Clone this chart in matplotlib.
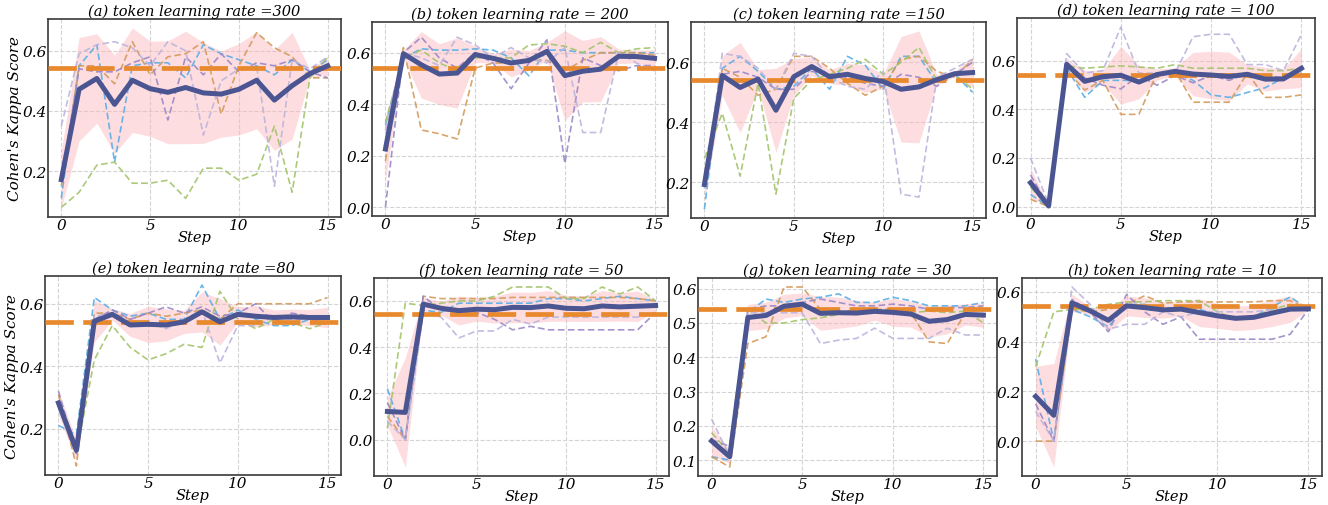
import numpy as np
import matplotlib
matplotlib.use("Agg")
import matplotlib.pyplot as plt
from matplotlib.ticker import MultipleLocator

steps = list(range(16))
baseline = 0.542
titles = ["(a) token learning rate =300", "(b) token learning rate = 200",
          "(c) token learning rate =150", "(d) token learning rate = 100",
          "(e) token learning rate =80", "(f) token learning rate = 50",
          "(g) token learning rate = 30", "(h) token learning rate = 10"]

# run order in each panel: blue, orange, green, purple, lavender
runs_300 = [
    [0.11, 0.55, 0.62, 0.23, 0.55, 0.56, 0.56, 0.51, 0.62, 0.59, 0.57, 0.55, 0.52, 0.57, 0.53, 0.57],
    [0.15, 0.55, 0.55, 0.49, 0.63, 0.52, 0.58, 0.59, 0.63, 0.39, 0.55, 0.66, 0.61, 0.58, 0.51, 0.51],
    [0.08, 0.13, 0.22, 0.23, 0.16, 0.16, 0.17, 0.11, 0.21, 0.21, 0.17, 0.19, 0.35, 0.13, 0.51, 0.58],
    [0.17, 0.54, 0.53, 0.53, 0.56, 0.58, 0.37, 0.58, 0.52, 0.59, 0.53, 0.56, 0.55, 0.57, 0.53, 0.51],
    [0.35, 0.59, 0.62, 0.63, 0.61, 0.55, 0.63, 0.60, 0.32, 0.50, 0.54, 0.55, 0.15, 0.57, 0.54, 0.58],
]
runs_200 = [
    [0.32, 0.58, 0.615, 0.61, 0.61, 0.615, 0.61, 0.58, 0.51, 0.61, 0.61, 0.60, 0.60, 0.60, 0.60, 0.60],
    [0.18, 0.62, 0.30, 0.285, 0.265, 0.54, 0.56, 0.56, 0.57, 0.57, 0.53, 0.57, 0.60, 0.60, 0.60, 0.59],
    [0.33, 0.58, 0.61, 0.56, 0.53, 0.58, 0.58, 0.58, 0.63, 0.635, 0.625, 0.60, 0.64, 0.60, 0.615, 0.62],
    [0.00, 0.60, 0.66, 0.58, 0.54, 0.60, 0.56, 0.46, 0.56, 0.65, 0.17, 0.58, 0.55, 0.53, 0.55, 0.55],
    [0.30, 0.60, 0.58, 0.55, 0.66, 0.63, 0.58, 0.62, 0.58, 0.56, 0.62, 0.29, 0.29, 0.60, 0.56, 0.53],
]
runs_150 = [
    [0.11, 0.58, 0.62, 0.57, 0.51, 0.52, 0.58, 0.51, 0.62, 0.59, 0.51, 0.62, 0.62, 0.53, 0.56, 0.50],
    [0.19, 0.58, 0.55, 0.49, 0.51, 0.62, 0.62, 0.58, 0.53, 0.49, 0.52, 0.61, 0.62, 0.57, 0.55, 0.61],
    [0.28, 0.43, 0.22, 0.53, 0.16, 0.48, 0.54, 0.56, 0.58, 0.61, 0.56, 0.60, 0.65, 0.54, 0.56, 0.51],
    [0.20, 0.56, 0.57, 0.55, 0.51, 0.51, 0.57, 0.56, 0.55, 0.53, 0.52, 0.56, 0.55, 0.52, 0.56, 0.60],
    [0.18, 0.63, 0.62, 0.58, 0.51, 0.63, 0.62, 0.55, 0.52, 0.51, 0.57, 0.16, 0.15, 0.55, 0.58, 0.61],
]
runs_100 = [
    [0.05, 0.00, 0.57, 0.45, 0.52, 0.52, 0.52, 0.55, 0.55, 0.52, 0.46, 0.45, 0.47, 0.49, 0.53, 0.55],
    [0.03, 0.00, 0.56, 0.48, 0.52, 0.38, 0.38, 0.55, 0.56, 0.43, 0.43, 0.43, 0.55, 0.45, 0.45, 0.46],
    [0.08, 0.00, 0.58, 0.57, 0.575, 0.58, 0.575, 0.57, 0.585, 0.57, 0.57, 0.57, 0.57, 0.56, 0.56, 0.57],
    [0.13, 0.00, 0.59, 0.53, 0.50, 0.485, 0.54, 0.50, 0.54, 0.51, 0.54, 0.52, 0.55, 0.54, 0.53, 0.56],
    [0.20, 0.01, 0.63, 0.55, 0.56, 0.74, 0.55, 0.55, 0.55, 0.70, 0.71, 0.71, 0.585, 0.585, 0.56, 0.71],
]
runs_80 = [
    [0.21, 0.18, 0.62, 0.58, 0.56, 0.57, 0.55, 0.55, 0.66, 0.55, 0.58, 0.55, 0.53, 0.53, 0.55, 0.54],
    [0.31, 0.08, 0.57, 0.57, 0.55, 0.57, 0.56, 0.57, 0.58, 0.55, 0.60, 0.60, 0.60, 0.60, 0.60, 0.62],
    [0.28, 0.12, 0.42, 0.53, 0.46, 0.42, 0.44, 0.47, 0.46, 0.64, 0.55, 0.52, 0.55, 0.54, 0.52, 0.54],
    [0.32, 0.12, 0.55, 0.58, 0.55, 0.57, 0.59, 0.57, 0.59, 0.56, 0.57, 0.60, 0.54, 0.57, 0.56, 0.53],
    [0.29, 0.15, 0.56, 0.57, 0.54, 0.54, 0.52, 0.55, 0.58, 0.41, 0.53, 0.53, 0.56, 0.55, 0.55, 0.55],
]
runs_50 = [
    [0.22, 0.00, 0.56, 0.55, 0.59, 0.59, 0.59, 0.59, 0.59, 0.61, 0.61, 0.60, 0.61, 0.62, 0.61, 0.60],
    [0.10, 0.00, 0.62, 0.61, 0.61, 0.61, 0.61, 0.615, 0.615, 0.615, 0.615, 0.615, 0.615, 0.615, 0.61, 0.60],
    [0.05, 0.59, 0.58, 0.59, 0.60, 0.60, 0.62, 0.66, 0.66, 0.66, 0.61, 0.61, 0.66, 0.63, 0.66, 0.60],
    [0.16, 0.00, 0.62, 0.56, 0.55, 0.55, 0.52, 0.475, 0.49, 0.475, 0.475, 0.475, 0.475, 0.475, 0.475, 0.55],
    [0.08, 0.00, 0.55, 0.53, 0.44, 0.47, 0.47, 0.52, 0.50, 0.53, 0.53, 0.53, 0.53, 0.53, 0.53, 0.55],
]
runs_30 = [
    [0.11, 0.10, 0.53, 0.57, 0.56, 0.57, 0.575, 0.585, 0.56, 0.56, 0.575, 0.565, 0.55, 0.55, 0.55, 0.56],
    [0.11, 0.08, 0.44, 0.46, 0.605, 0.605, 0.54, 0.53, 0.54, 0.54, 0.54, 0.53, 0.445, 0.44, 0.53, 0.54],
    [0.18, 0.12, 0.54, 0.50, 0.50, 0.51, 0.515, 0.525, 0.54, 0.535, 0.53, 0.53, 0.535, 0.53, 0.535, 0.50],
    [0.16, 0.14, 0.54, 0.55, 0.55, 0.56, 0.57, 0.56, 0.55, 0.55, 0.555, 0.55, 0.54, 0.545, 0.545, 0.55],
    [0.22, 0.11, 0.53, 0.53, 0.53, 0.53, 0.44, 0.45, 0.455, 0.485, 0.455, 0.455, 0.455, 0.485, 0.465, 0.465],
]
runs_10 = [
    [0.33, 0.00, 0.53, 0.50, 0.46, 0.55, 0.55, 0.53, 0.53, 0.53, 0.51, 0.49, 0.50, 0.54, 0.58, 0.53],
    [0.00, 0.00, 0.53, 0.52, 0.53, 0.55, 0.585, 0.555, 0.56, 0.56, 0.56, 0.56, 0.56, 0.565, 0.565, 0.53],
    [0.30, 0.52, 0.53, 0.53, 0.55, 0.56, 0.56, 0.565, 0.565, 0.565, 0.52, 0.49, 0.50, 0.53, 0.55, 0.54],
    [0.15, 0.00, 0.57, 0.52, 0.44, 0.59, 0.52, 0.47, 0.50, 0.41, 0.41, 0.41, 0.41, 0.41, 0.43, 0.53],
    [0.12, 0.00, 0.62, 0.55, 0.45, 0.47, 0.47, 0.52, 0.50, 0.52, 0.52, 0.52, 0.52, 0.53, 0.53, 0.53],
]
all_runs = [runs_300, runs_200, runs_150, runs_100, runs_80, runs_50, runs_30, runs_10]

run_colors = ["#5aaee6", "#d49a5c", "#a3c36a", "#9a88c6", "#bcb4dc"]
mean_color = "#4a5592"
band_color = "#fbb4b8"
base_color = "#e8892e"

# axes boxes in pixels (left, top, right, bottom)
W, H = 1328, 506
boxes = [(48, 20, 341, 218), (372, 23, 668, 217), (691, 23, 986, 219), (1017, 19, 1315, 217),
         (45, 277, 341, 476), (374, 279, 669, 477), (698, 279, 997, 477), (1022, 279, 1322, 477)]
ystep = [0.2, 0.2, 0.2, 0.2, 0.2, 0.2, 0.1, 0.2]

plt.rcParams["font.family"] = ["DejaVu Serif"]
plt.rcParams["font.style"] = "italic"

fig = plt.figure(figsize=(W / 100, H / 100), dpi=100)
for k, (runs, (l, t, r, b)) in enumerate(zip(all_runs, boxes)):
    ax = fig.add_axes([l / W, 1 - b / H, (r - l) / W, (b - t) / H])
    arr = np.array(runs)
    m = arr.mean(axis=0)
    s = arr.std(axis=0)
    ax.fill_between(steps, m - s, m + s, color=band_color, alpha=0.45, lw=0, zorder=1)
    for run, c in zip(runs, run_colors):
        ax.plot(steps, run, color=c, lw=1.2, ls=(0, (4, 2)), alpha=0.9, zorder=2)
    ax.axhline(baseline, color=base_color, lw=3.4, ls=(0, (6, 2)), zorder=3)
    ax.plot(steps, m, color=mean_color, lw=3.6, zorder=4)
    ax.set_xticks([0, 5, 10, 15])
    ax.yaxis.set_major_locator(MultipleLocator(ystep[k]))
    ax.grid(True, color="#d4d4d4", ls="--", lw=0.8, zorder=0)
    ax.set_axisbelow(True)
    for sp in ax.spines.values():
        sp.set_color("#3a3a3a")
        sp.set_linewidth(1.2)
    ax.tick_params(length=0, labelsize=11, pad=1)
    ax.set_title(titles[k], fontsize=10.5, style="italic", pad=3)
    ax.set_xlabel("Step", fontsize=10.5, style="italic", labelpad=-2)
    if k in (0, 4):
        ax.set_ylabel("Cohen's Kappa Score", fontsize=11, style="italic", labelpad=0)

fig.savefig("out.png", dpi=100)
